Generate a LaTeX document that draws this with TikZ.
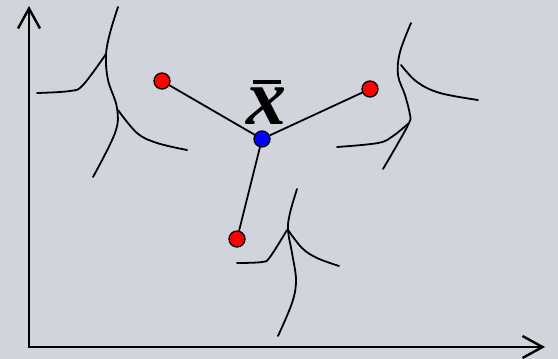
\documentclass[tikz,border=0pt]{standalone}
\usepackage{fontspec}
\usetikzlibrary{arrows.meta}
\newfontfamily\xbarfont{Liberation Serif}
\definecolor{bgc}{RGB}{209,212,219}
\tikzset{
  dot/.style={circle, draw=black, line width=1.3pt, minimum size=16pt, inner sep=0pt},
  bound/.style={line width=1.8pt, line cap=round, tension=0.6},
  link/.style={line width=1.8pt},
  axis/.style={line width=2.6pt, line join=miter, {Straight Barb[length=20pt,width=22pt,line width=2.4pt]}-{Straight Barb[length=20pt,width=22pt,line width=2.4pt]}}
}
\begin{document}
\begin{tikzpicture}[x=1pt,y=-1pt]
\fill[bgc] (0,0) rectangle (558,359);
\useasboundingbox (0,0) rectangle (558,359);
% axes
\coordinate (ytip) at (29,6);
\coordinate (origin) at (29,347);
\coordinate (xtip) at (545,347);
\draw[axis] (ytip) -- (origin) -- (xtip);
% boundary curves, upper left
\draw[bound] plot[smooth] coordinates {(118,7) (110,33) (106,55) (108,80) (117,108) (115,133) (93,177)};
\draw[bound] plot[smooth] coordinates {(37,93) (70,91) (83,85) (106,54)};
\draw[bound] plot[smooth] coordinates {(118,110) (137,133) (157,143) (187,150)};
% upper right
\draw[bound] plot[smooth] coordinates {(411,23) (400,52) (398,75) (405,95) (410,115) (409,123) (397,145) (383,169)};
\draw[bound] plot[smooth] coordinates {(401,65) (417,82) (440,93) (478,100)};
\draw[bound] plot[smooth] coordinates {(337,147) (378,143) (393,136) (409,123)};
% bottom
\draw[bound] plot[smooth] coordinates {(297,189) (290,213) (288,230) (292,253) (296,280) (292,303) (278,336)};
\draw[bound] plot[smooth] coordinates {(288,230) (302,248) (317,258) (339,266)};
\draw[bound] plot[smooth] coordinates {(237,263) (262,262) (270,257) (287,230)};
% points
\node[dot, fill=red] (r1) at (162,81) {};
\node[dot, fill=red] (r2) at (370,89) {};
\node[dot, fill=red] (r3) at (237,239) {};
\node[dot, fill=blue] (m) at (262,139) {};
\draw[link] (r1) -- (m);
\draw[link] (r2) -- (m);
\draw[link] (r3) -- (m);
% mean label
\node[inner sep=0pt, font=\xbarfont\bfseries\itshape\fontsize{80}{80}\selectfont] (xbar) at (266.5,106.5) {x};
\draw[line width=3.5pt] ([shift={(-14,-6)}]xbar.north) -- ([shift={(14,-6)}]xbar.north);
\end{tikzpicture}
\end{document}
